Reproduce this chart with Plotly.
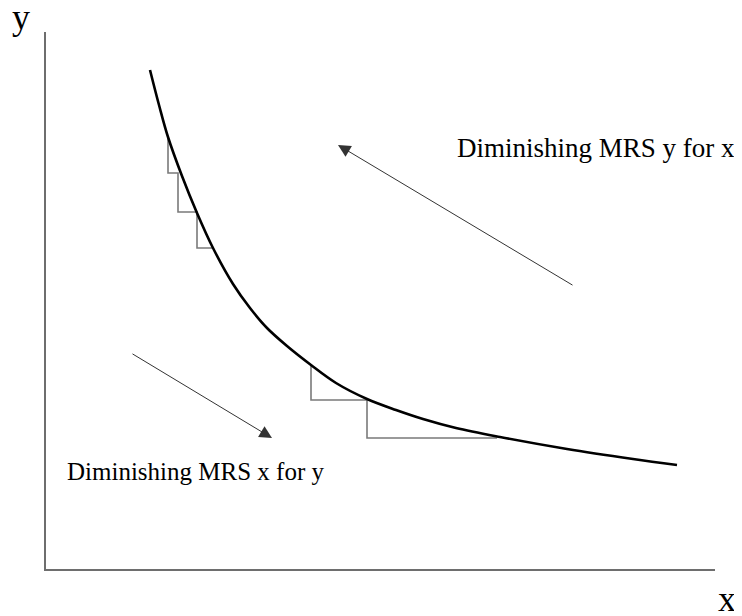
import plotly.graph_objects as go

# Indifference curve (x, y) in data units, origin at the axes corner
curve_x = [10.4, 11.3, 12.2, 13.6, 15.1, 16.7, 18.7, 20.4, 22.1, 24.1, 26.5, 29.0, 32.1,
           35.0, 37.7, 41.0, 45.4, 52.1, 58.7, 63.1]
curve_y = [49.9, 46.4, 43.2, 39.3, 35.6, 32.1, 28.5, 26.1, 24.1, 22.3, 20.4, 18.6, 17.0,
           15.9, 15.0, 14.1, 13.2, 12.0, 11.0, 10.4]

# Step (staircase) paths
steps_upper_x = [12.2, 12.2, 13.2, 13.2, 15.1, 15.1, 16.7]
steps_upper_y = [43.2, 39.6, 39.6, 35.7, 35.7, 32.1, 32.1]
steps_lower_x = [26.5, 26.5, 32.1, 32.1, 45.1]
steps_lower_y = [20.4, 16.9, 16.9, 13.1, 13.1]

# Arrows: (tail -> tip)
arrow_upper = dict(tail=(52.8, 28.3), tip=(29.2, 42.4))
arrow_lower = dict(tail=(8.5, 21.6), tip=(22.6, 13.1))

# Labels
label_upper = "Diminishing MRS y for x"
label_lower = "Diminishing MRS x for y"
x_axis_label = "x"
y_axis_label = "y"

x_range = [0, 66.9]
y_range = [0, 53.7]

serif = "Liberation Serif, Times New Roman, serif"

fig = go.Figure()
fig.add_trace(go.Scatter(x=steps_upper_x, y=steps_upper_y, mode="lines",
                         line=dict(color="#7a7a7a", width=1.6), hoverinfo="skip"))
fig.add_trace(go.Scatter(x=steps_lower_x, y=steps_lower_y, mode="lines",
                         line=dict(color="#7a7a7a", width=1.6), hoverinfo="skip"))
fig.add_trace(go.Scatter(x=curve_x, y=curve_y, mode="lines",
                         line=dict(color="black", width=2.6, shape="spline", smoothing=1.0),
                         hoverinfo="skip"))

for a in (arrow_upper, arrow_lower):
    fig.add_annotation(x=a["tip"][0], y=a["tip"][1], ax=a["tail"][0], ay=a["tail"][1],
                       xref="x", yref="y", axref="x", ayref="y", text="",
                       showarrow=True, arrowhead=2, arrowsize=2.5, arrowwidth=1,
                       arrowcolor="#333333")

fig.add_annotation(x=54.95, y=42.1, xref="x", yref="y", text=label_upper, showarrow=False,
                   font=dict(family=serif, size=27, color="black"))
fig.add_annotation(x=14.9, y=9.8, xref="x", yref="y", text=label_lower, showarrow=False,
                   font=dict(family=serif, size=25, color="black"))
fig.add_annotation(x=-0.054, y=1.069, xref="paper", yref="paper", text=y_axis_label,
                   showarrow=False, font=dict(family=serif, size=36, color="black"))
fig.add_annotation(x=1.034, y=-0.097, xref="paper", yref="paper", text=x_axis_label,
                   showarrow=False, font=dict(family=serif, size=36, color="black"))

axis_common = dict(showgrid=False, zeroline=False, showticklabels=False, ticks="",
                   showline=True, linecolor="#6e6e6e", linewidth=2, fixedrange=True)
fig.update_xaxes(range=x_range, **axis_common)
fig.update_yaxes(range=y_range, **axis_common)

fig.update_layout(width=734, height=608, showlegend=False,
                  margin=dict(l=38, r=27, t=24, b=47),
                  plot_bgcolor="white", paper_bgcolor="white")

fig.write_html("out.html")
